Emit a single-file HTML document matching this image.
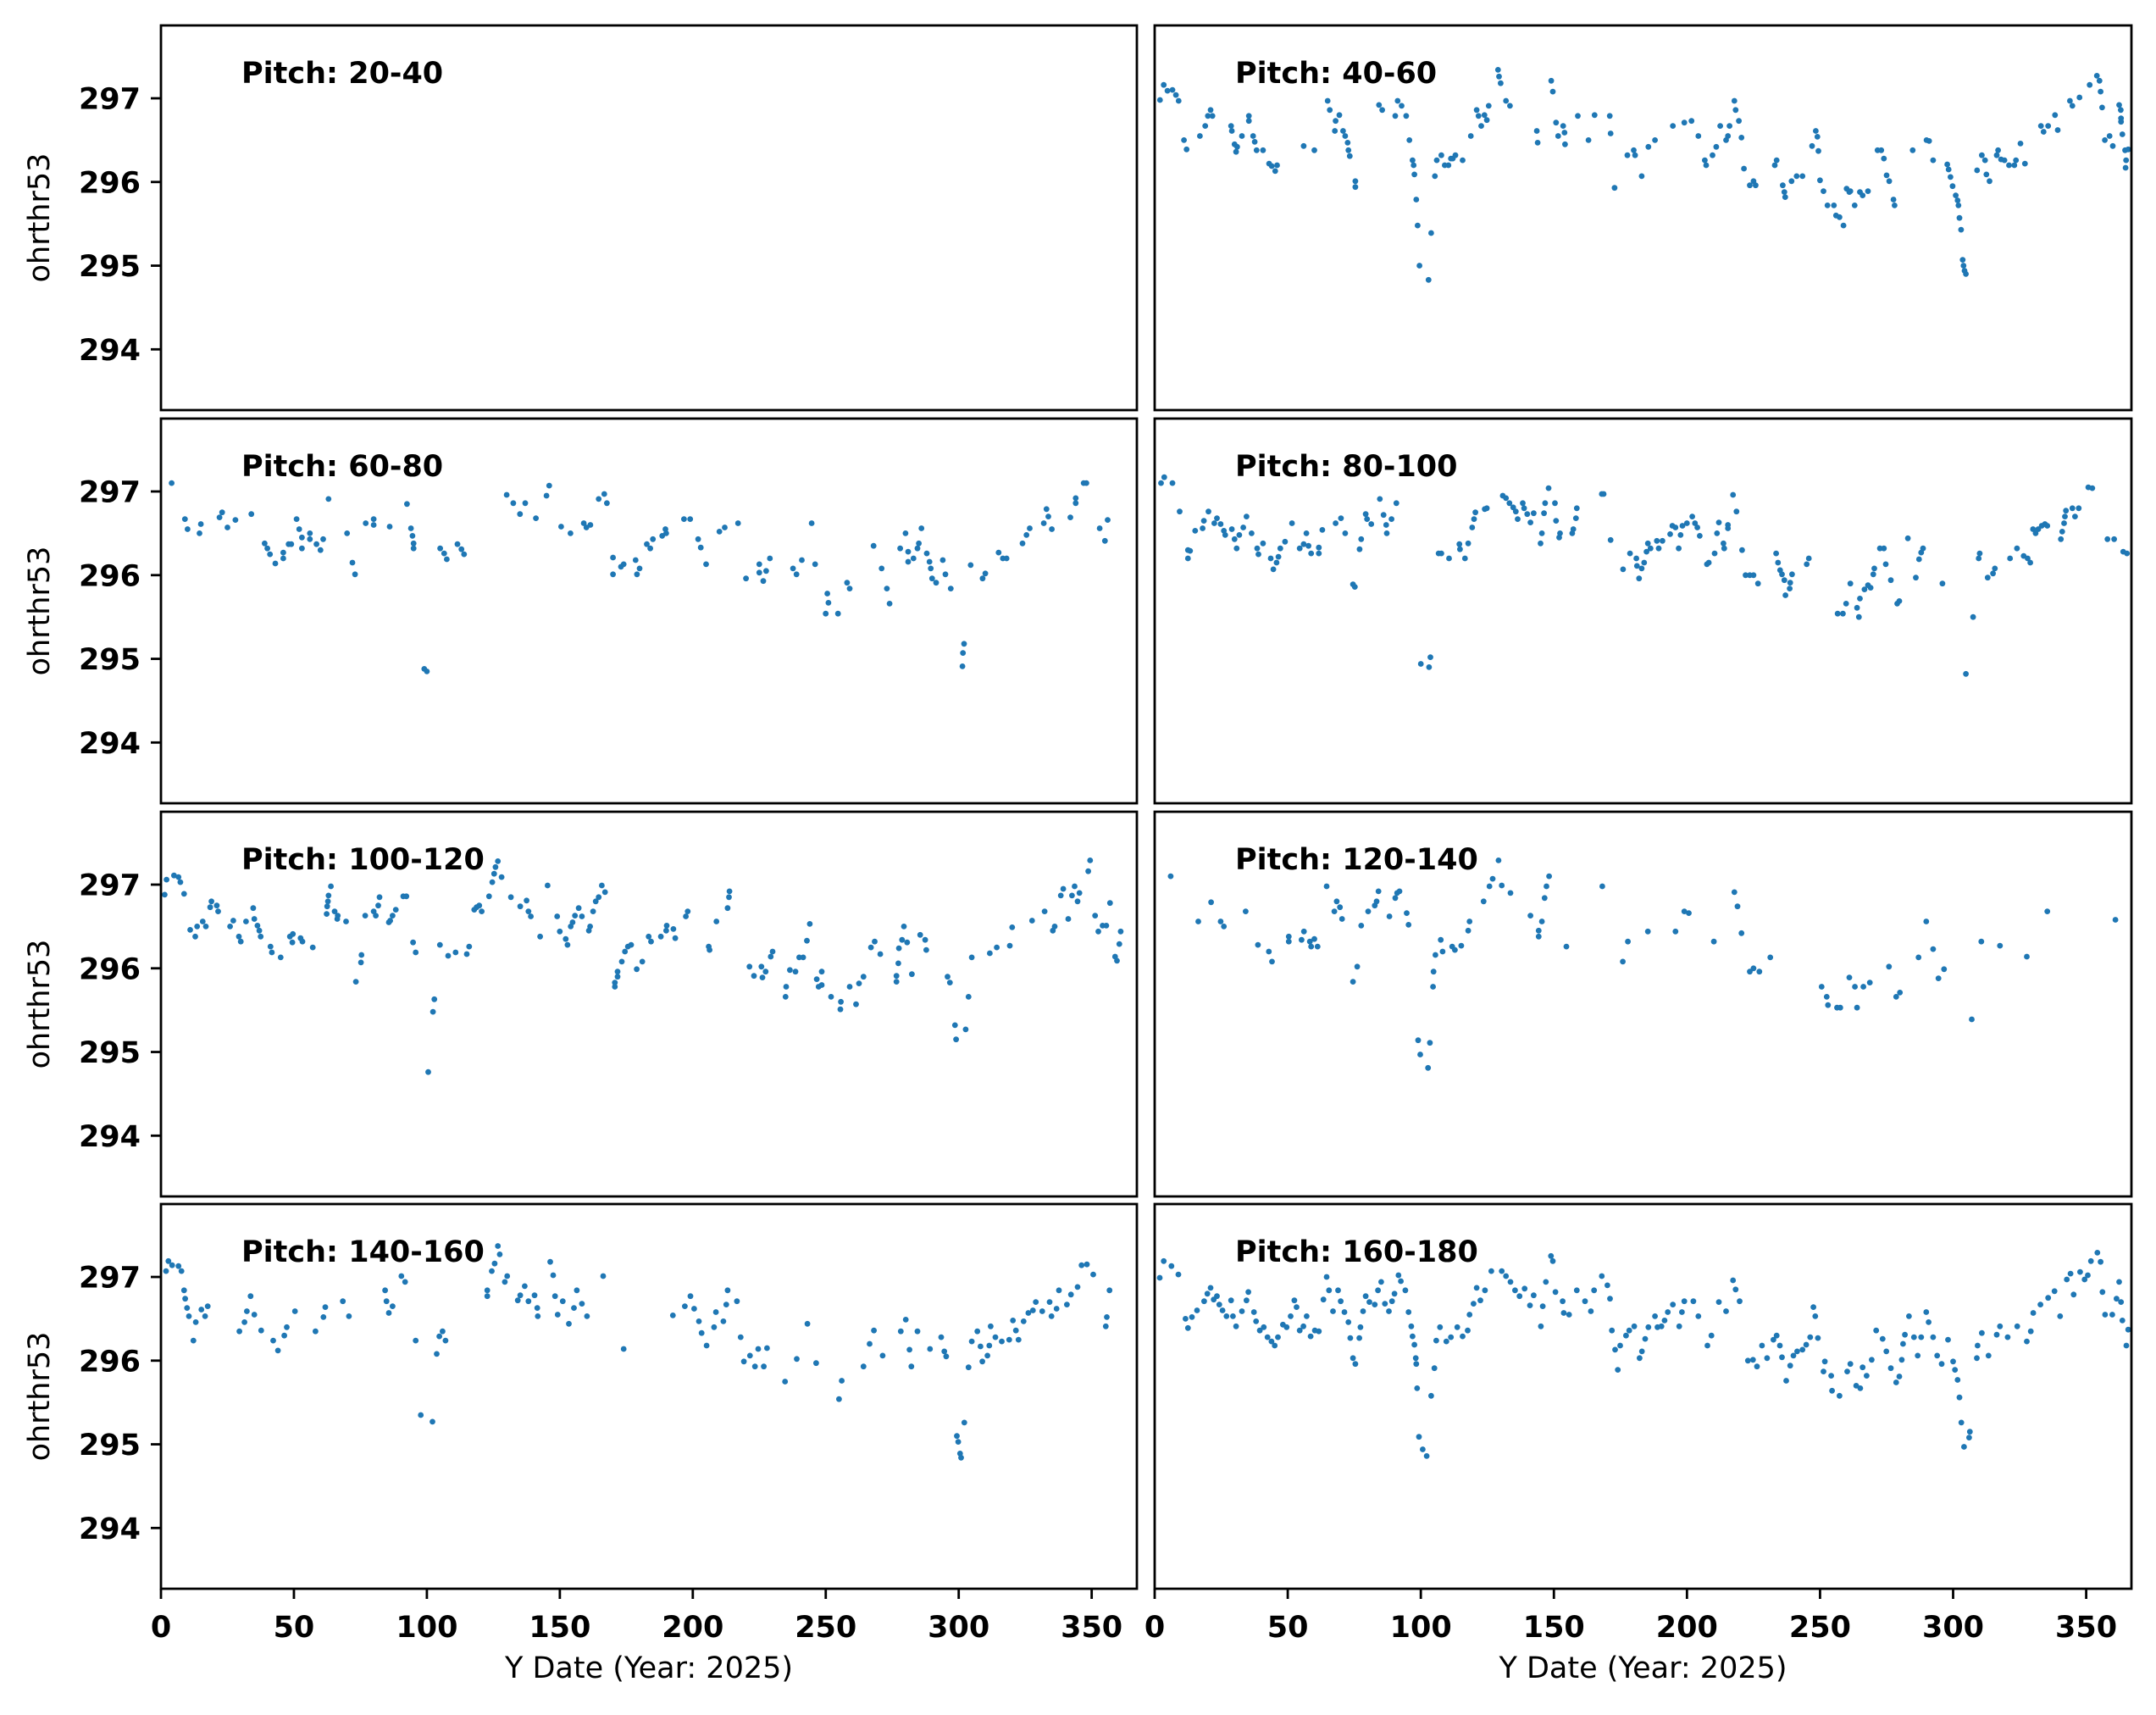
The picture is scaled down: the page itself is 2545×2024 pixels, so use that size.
<!DOCTYPE html>
<html><head><meta charset="utf-8"><title>ohrthr53 by pitch</title>
<style>
html,body{margin:0;padding:0;background:#fff;}
svg{display:block;}
text{font-family:"DejaVu Sans","Liberation Sans",sans-serif;fill:#000;}
</style></head>
<body>
<svg id="chart" width="2545" height="2024" viewBox="0 0 2545 2024" xmlns="http://www.w3.org/2000/svg">
<rect x="0" y="0" width="2545" height="2024" fill="#fff"/>
</svg>
<script>
const panelTitles = ["Pitch: 20-40","Pitch: 40-60","Pitch: 60-80","Pitch: 80-100","Pitch: 100-120","Pitch: 120-140","Pitch: 140-160","Pitch: 160-180"];
const yTicks = [294,295,296,297];
const xTicks = [0,50,100,150,200,250,300,350];
const xDomain = [0,367];
const yDomain = [293.274,297.871];

const p20_40 = [];
const p40_60 = [[2,296.98],[3.4,297.16],[4.8,297.09],[6.7,297.1],[8,297.04],[9,296.97],[11,296.5],[12,296.39],[17,296.55],[19,296.67],[20,296.79],[21,296.86],[21.7,296.79],[28.7,296.67],[29,296.61],[30,296.45],[30.6,296.36],[31,296.42],[32.8,296.55],[35.4,296.79],[35.4,296.73],[37,296.55],[37.6,296.48],[38.3,296.38],[40.7,296.38],[43,296.22],[44,296.19],[45.3,296.13],[46,296.2],[56,296.43],[60,296.38],[65,296.97],[65.8,296.86],[68,296.73],[69.4,296.8],[67.7,296.61],[70.8,296.61],[71.6,296.55],[72.5,296.47],[72.8,296.38],[73.3,296.31],[75.4,296.01],[75.4,295.94],[84.3,296.92],[85.5,296.86],[91.3,296.97],[92.8,296.91],[90.4,296.79],[94.5,296.79],[95.7,296.5],[96.9,296.26],[97.3,296.2],[97.6,296.09],[98.3,295.79],[98.8,295.48],[99.5,295],[102.9,294.83],[103.9,295.39],[105.3,296.07],[106,296.26],[107.7,296.32],[109,296.2],[110.4,296.2],[111.3,296.28],[112,296.28],[113,296.32],[115.7,296.26],[118.8,296.55],[121,296.86],[121.7,296.79],[122.7,296.67],[123.9,296.8],[124.8,296.74],[125.5,296.91],[129,297.34],[129.4,297.26],[130,297.18],[132,296.97],[133.5,296.91],[143.6,296.61],[143.9,296.47],[149,297.21],[149.6,297.08],[150.8,296.71],[151.6,296.55],[153.5,296.67],[154,296.59],[154.2,296.45],[159,296.79],[163,296.5],[165.3,296.8],[171,296.79],[171.3,296.58],[172.8,295.93],[177.6,296.32],[180,296.38],[180.5,296.32],[183,296.07],[185.5,296.42],[188,296.5],[194.7,296.67],[199,296.71],[201.7,296.73],[204.3,296.55],[206.7,296.26],[207.2,296.2],[209.6,296.32],[211,296.42],[212.5,296.67],[214.7,296.5],[215.4,296.55],[216,296.67],[217.8,296.97],[218.3,296.86],[219.5,296.73],[220.5,296.53],[221.4,296.16],[223.6,295.96],[225,296.01],[225.8,295.96],[233,296.2],[233.7,296.26],[236,295.96],[236.6,295.88],[236.9,295.82],[239.3,296.01],[241.2,296.07],[243.4,296.07],[247,296.43],[248.4,296.61],[249,296.54],[249.4,296.37],[250,296.02],[251.3,295.89],[252.8,295.72],[255.2,295.72],[256,295.6],[257.3,295.58],[258.8,295.48],[260,295.92],[261,295.88],[261.4,295.89],[263,295.72],[265,295.88],[266,295.84],[268,295.89],[271.6,296.38],[273,296.38],[274,296.28],[275,296.08],[276,296.01],[277.6,295.79],[278,295.72],[284.8,296.38],[290,296.5],[291,296.49],[292.5,296.26],[297.8,296.21],[298.3,296.15],[299,296.06],[299.8,295.95],[301,295.84],[301.7,295.78],[302,295.72],[302.4,295.57],[303,295.43],[303.6,295.07],[303.9,295],[304.3,294.94],[304.8,294.9],[309,296.14],[310.8,296.32],[312,296.26],[312.5,296.09],[313.7,296.01],[316.9,296.38],[316.4,296.32],[318,296.27],[319.3,296.26],[321,296.2],[323,296.2],[323.6,296.26],[325.3,296.46],[327,296.22],[333,296.67],[334,296.6],[335.7,296.67],[338.3,296.8],[339.3,296.62],[343.9,296.97],[344.8,296.91],[347.5,297.01],[351.3,297.16],[354,297.27],[355,297.21],[355.4,297.08],[356,296.89],[357,296.5],[358.8,296.55],[360,296.43],[362.4,296.92],[363,296.86],[363.1,296.76],[363.1,296.72],[363.6,296.57],[364.6,296.38],[365,296.26],[364.8,296.17],[365.8,296.39]];
const p60_80 = [[4,297.1],[9,296.67],[10,296.55],[15,296.61],[14.5,296.5],[22,296.69],[23,296.75],[25,296.57],[28,296.66],[34,296.73],[39,296.38],[40,296.32],[41,296.25],[43,296.14],[46,296.27],[46,296.2],[48,296.37],[49,296.37],[51,296.67],[52,296.55],[53,296.45],[53,296.32],[56,296.5],[56,296.43],[58.5,296.37],[60,296.3],[61,296.43],[63,296.91],[70,296.5],[72,296.15],[73,296.01],[77,296.62],[80,296.67],[80,296.6],[86,296.58],[92.5,296.85],[94,296.56],[94.6,296.47],[95,296.38],[95,296.32],[99,294.88],[100,294.85],[105,296.32],[106.5,296.26],[107.5,296.19],[111.5,296.37],[113,296.31],[114,296.25],[130,296.96],[132.5,296.86],[137,296.86],[135,296.73],[141,296.68],[145,296.95],[146,297.07],[150.5,296.58],[154,296.5],[159,296.62],[160,296.57],[161.5,296.6],[164.6,296.91],[166.7,296.97],[167.7,296.86],[170,296.21],[170,296.01],[173,296.1],[174,296.13],[178.5,296.18],[179,296.01],[180,296.08],[182.7,296.37],[184,296.32],[185,296.43],[188.5,296.47],[189.7,296.55],[190,296.5],[196.7,296.67],[199,296.67],[202,296.43],[203,296.33],[205,296.13],[210,296.52],[212,296.57],[217,296.62],[220,295.96],[225,296.03],[225,296.13],[226.5,295.93],[227.6,296.05],[229,296.2],[237.7,296.08],[239,296.01],[241,296.18],[244.7,296.62],[246,296.13],[250.6,295.78],[251,295.67],[250,295.54],[254.6,295.54],[258,295.91],[259,295.84],[268,296.35],[271,296.08],[273,295.84],[274,295.66],[278,296.32],[280,296.5],[281,296.28],[281,296.16],[283,296.2],[284.5,296.32],[285,296.38],[286,296.56],[288,296.26],[289,296.16],[289.5,296.08],[290,295.96],[291.5,295.91],[294,296.18],[295,296.01],[297,295.84],[302,295.18],[301.6,295.07],[301.4,294.91],[304.5,296.12],[309,295.96],[310,296.02],[315,296.27],[316.6,296.2],[318,296.2],[324,296.38],[325.5,296.48],[326.7,296.56],[332,296.62],[333,296.79],[333.7,296.7],[335,296.55],[342,296.69],[344,296.92],[344,296.86],[347,297.1],[348,297.1],[353,296.56],[355,296.41],[356,296.66]];
const p80_100 = [[2.4,297.1],[3.6,297.17],[6.7,297.1],[9.4,296.76],[12.5,296.3],[12.5,296.2],[13.3,296.29],[15.2,296.53],[18,296.56],[18.5,296.65],[20.2,296.76],[22.4,296.62],[23.4,296.68],[24.8,296.61],[26,296.53],[26.5,296.48],[29,296.55],[30,296.43],[30.8,296.32],[31.8,296.48],[33.3,296.57],[34.5,296.7],[36.4,296.5],[38.5,296.32],[39,296.25],[40.7,296.38],[43.6,296.2],[44.6,296.07],[45.8,296.15],[46.5,296.22],[47.2,296.32],[49,296.4],[51.6,296.62],[54.5,296.32],[56,296.37],[57,296.5],[57.8,296.35],[58.8,296.26],[61.7,296.33],[61.7,296.26],[63,296.54],[68,296.62],[70,296.68],[71.6,296.5],[74.5,295.89],[75.2,295.86],[77,296.31],[77.6,296.43],[79.3,296.73],[79.8,296.67],[81.4,296.61],[84.6,296.91],[86,296.72],[87,296.6],[87.2,296.5],[89,296.67],[90.8,296.86],[100,294.94],[103.1,294.9],[103.6,295.02],[106.7,296.26],[107.7,296.26],[110.6,296.2],[114.5,296.37],[114.7,296.31],[116.6,296.2],[117.8,296.38],[119.3,296.57],[120,296.67],[120.5,296.75],[124,296.79],[124.8,296.8],[130.8,296.95],[132,296.92],[133.3,296.86],[134.7,296.81],[135.7,296.76],[136.4,296.67],[138.3,296.86],[138.8,296.8],[140,296.73],[141.2,296.63],[142.4,296.74],[146.3,296.74],[146.7,296.86],[148,297.04],[150.4,296.86],[150.8,296.65],[145.5,296.5],[145,296.38],[152.3,296.5],[152,296.45],[156.9,296.5],[157.3,296.55],[158.3,296.68],[158.6,296.8],[168,296.97],[168.7,296.97],[171.3,296.42],[176,296.07],[178.6,296.26],[181,296.2],[181.2,296.11],[182,295.96],[183,296.08],[183.9,296.15],[184.8,296.28],[185.3,296.38],[186.3,296.32],[188.7,296.41],[189.4,296.32],[190.8,296.41],[193.7,296.49],[194.5,296.59],[195.7,296.57],[196.9,296.32],[197.6,296.48],[198.3,296.59],[200,296.62],[202,296.7],[203,296.62],[203.9,296.57],[204.8,296.47],[207.5,296.13],[208.2,296.15],[210.4,296.26],[211.3,296.5],[212,296.63],[213.7,296.38],[214,296.32],[215.4,296.6],[215.4,296.56],[217.3,296.96],[218.6,296.76],[220.7,296.3],[222,296],[223.6,296],[225,296],[226.7,295.9],[233.5,296.26],[234.2,296.15],[235,296.06],[235.7,296.01],[236.6,295.94],[237,295.76],[238.6,295.84],[238.8,295.91],[239.5,296.01],[245,296.13],[245.8,296.2],[256.6,295.54],[258.6,295.54],[259.8,295.66],[261.4,295.9],[263.9,295.61],[264.6,295.5],[265,295.72],[266.7,295.83],[268,295.88],[269,295.85],[270,296.01],[270.4,296.08],[272.5,296.32],[274,296.32],[274.7,296.13],[276.6,295.94],[279,295.66],[279.8,295.69],[283,296.44],[286,295.97],[287.2,296.19],[288,296.27],[288.7,296.32],[296,295.9],[304.8,294.82],[307.5,295.5],[309.6,296.2],[310,296.26],[313,295.97],[315,296.02],[315.7,296.08],[321.4,296.2],[324,296.32],[326.5,296.23],[328,296.2],[329,296.15],[330,296.55],[331,296.5],[332,296.55],[333.3,296.59],[334.5,296.61],[335.4,296.59],[340.5,296.43],[341,296.52],[341.7,296.62],[342,296.7],[342.4,296.77],[344.8,296.8],[345.8,296.7],[347.2,296.8],[350.8,297.05],[352.3,297.04],[358,296.43],[360.5,296.43],[363.9,296.28],[365.3,296.26]];
const p100_120 = [[1.4,296.88],[2.1,297.06],[4.9,297.11],[6.6,297.09],[7.3,297.03],[8.7,296.89],[11,296.46],[12.9,296.38],[13.6,296.5],[15.7,296.56],[16.9,296.5],[18.5,296.73],[19,296.8],[21,296.75],[21.5,296.68],[26,296.5],[27.2,296.57],[29.3,296.38],[30,296.32],[32,296.56],[34.7,296.72],[35.1,296.59],[36.3,296.51],[37,296.45],[37.5,296.38],[41.2,296.26],[41.7,296.19],[45,296.13],[48.5,296.38],[49.6,296.41],[49.4,296.31],[52.5,296.36],[53.2,296.32],[57.1,296.25],[62.3,296.65],[62.5,296.74],[62.8,296.8],[63,296.87],[63.9,296.98],[65.3,296.68],[66.3,296.59],[66.5,296.63],[69.6,296.56],[73.3,295.84],[75.2,296.07],[75.4,296.16],[76.8,296.63],[80,296.68],[80.8,296.63],[81.7,296.75],[82.2,296.85],[85.7,296.55],[86.2,296.57],[87.1,296.63],[88.3,296.7],[91.1,296.86],[92.3,296.86],[94.8,296.31],[95.8,296.19],[100.5,294.76],[102.3,295.48],[102.8,295.63],[104.9,296.28],[108,296.15],[110.8,296.19],[115,296.17],[115.9,296.26],[117.8,296.7],[118.7,296.73],[119.7,296.75],[120.6,296.68],[123.4,296.86],[124.6,297.03],[125.3,297.13],[125.8,297.21],[126.7,297.28],[128.1,297.09],[131.6,296.85],[135.1,296.74],[137.5,296.81],[138.2,296.68],[139.1,296.62],[142.6,296.38],[145.4,296.99],[149,296.62],[150,296.44],[152.2,296.35],[152.9,296.28],[154.1,296.5],[154.8,296.55],[155.7,296.63],[157.1,296.72],[158.3,296.62],[160.9,296.45],[161.4,296.5],[162.5,296.68],[163.5,296.8],[164.6,296.85],[165.8,296.99],[167,296.91],[170.7,295.78],[170.7,295.83],[171.7,295.9],[171.7,295.96],[173.3,296.08],[174.5,296.2],[175.6,296.26],[176.8,296.28],[178.9,295.99],[181,296.08],[183.4,296.38],[184.3,296.32],[188,296.38],[190,296.45],[190.2,296.51],[192.7,296.47],[193.4,296.36],[197.4,296.62],[198.1,296.68],[206,296.26],[206.3,296.22],[208.9,296.56],[213.1,296.72],[213.6,296.85],[213.8,296.92],[221.3,296.02],[223,295.91],[225.8,296.02],[226.2,295.89],[227.4,295.96],[229.3,296.14],[230,296.2],[234.9,295.66],[235.1,295.78],[236.5,295.98],[238.6,295.96],[240,296.13],[241.5,296.13],[242.9,296.33],[244,296.53],[246.6,295.87],[247.3,295.78],[248.5,295.8],[248.5,295.96],[252,295.66],[255.5,295.51],[255.7,295.6],[259,295.78],[261.4,295.57],[262.5,295.82],[264.2,295.9],[267,296.25],[268.4,296.32],[270.5,296.17],[276.6,295.91],[276.6,295.84],[277.3,296.06],[277.5,296.24],[278.7,296.34],[279.4,296.5],[280.6,296.31],[282.4,295.93],[285.5,296.4],[287.4,296.34],[287.8,296.22],[295.8,295.9],[296.7,295.83],[298.6,295.32],[299,295.15],[302.6,295.27],[303.7,295.66],[304.9,296.13],[311.7,296.18],[314.3,296.25],[319.2,296.27],[320.1,296.49],[327.6,296.57],[332.3,296.68],[335.4,296.45],[336.1,296.5],[338.4,296.87],[339.3,296.95],[341.2,296.59],[342.6,296.87],[343.6,296.98],[344.7,296.8],[345.4,296.9],[348.7,297.16],[349.4,297.29],[351.3,296.63],[352.5,296.44],[354.1,296.51],[355.5,296.51],[356.9,296.78],[358.8,296.14],[359.5,296.09],[360.4,296.29],[360.9,296.44]];
const p120_140 = [[6,297.1],[16.4,296.56],[21.2,296.79],[24.8,296.56],[26,296.5],[34.2,296.68],[38.8,296.28],[42.9,296.2],[44.1,296.08],[50.4,296.38],[50.4,296.32],[55.2,296.34],[56.1,296.44],[58.3,296.32],[58.8,296.26],[60,296.35],[61.2,296.26],[64.6,296.98],[67.5,296.68],[68.4,296.8],[69.6,296.73],[70.4,296.59],[74.5,295.84],[76.1,296.02],[77.6,296.51],[80.2,296.68],[82.7,296.75],[83.4,296.8],[84.1,296.92],[88.2,296.62],[90.4,296.84],[91.1,296.9],[92,296.92],[94.7,296.66],[95.4,296.52],[99,295.14],[99.8,294.97],[102.7,294.81],[103.4,295.11],[104.6,295.78],[104.8,295.96],[105.5,296.16],[107.5,296.34],[108.2,296.2],[111.8,296.26],[112.8,296.22],[115.2,296.27],[117.8,296.45],[118.3,296.56],[123.6,296.8],[125.8,296.98],[127,297.07],[129.2,297.29],[130.4,296.99],[133.7,296.9],[141.2,296.63],[144.3,296.45],[144.3,296.38],[145.5,296.56],[146.5,296.84],[147.2,296.98],[148.2,297.1],[154.7,296.26],[168.2,296.98],[175.9,296.08],[177.8,296.32],[185.3,296.44],[195.7,296.44],[199,296.68],[200.7,296.66],[210.1,296.32],[217.8,296.91],[219,296.74],[220.5,296.42],[223.6,295.96],[225,296.0],[227.2,295.96],[231.3,296.13],[250.6,295.78],[252.5,295.66],[253,295.56],[256.4,295.53],[257.6,295.53],[261,295.89],[263.1,295.78],[266.3,295.78],[263.9,295.53],[268.7,295.83],[275.9,296.02],[278.6,295.66],[280,295.71],[287,296.13],[289.9,296.56],[292.5,296.23],[294.5,295.88],[296.6,295.99],[307,295.39],[310.6,296.32],[317.6,296.27],[327.7,296.14],[335.4,296.68],[361,296.58]];
const p140_160 = [[1.9,297.07],[2.8,297.19],[4.2,297.14],[6.6,297.13],[7.7,297.07],[8.7,296.84],[9.1,296.74],[9.8,296.63],[10.5,296.53],[12.2,296.24],[13.1,296.46],[15.2,296.61],[16.6,296.53],[17.6,296.65],[29.5,296.35],[31.4,296.46],[32.3,296.59],[33.7,296.77],[35.1,296.55],[37.7,296.36],[42.2,296.24],[44,296.12],[46.4,296.3],[47.3,296.4],[50.4,296.59],[58.1,296.35],[61.1,296.52],[61.8,296.64],[68.4,296.71],[70.7,296.53],[84.3,296.84],[84.8,296.71],[85.7,296.57],[87.1,296.65],[90.4,297.01],[91.8,296.94],[95.8,296.24],[97.7,295.35],[102.1,295.27],[103.7,296.08],[104.7,296.29],[105.9,296.35],[107,296.24],[122.7,296.84],[122.7,296.77],[124.4,297.07],[125.5,297.16],[126.7,297.37],[127.4,297.27],[129.3,296.94],[130.2,297.01],[134.2,296.72],[135.1,296.78],[136.8,296.89],[138.2,296.71],[140.5,296.78],[141.5,296.63],[141.7,296.53],[146.4,297.18],[147.5,297.02],[148.2,296.77],[149.2,296.55],[151.1,296.71],[153.4,296.44],[155.3,296.63],[156.4,296.84],[158.3,296.68],[160.2,296.53],[166.3,297.01],[174,296.14],[192.5,296.54],[197,296.65],[199.1,296.77],[200.5,296.62],[202.3,296.47],[203.3,296.33],[205.2,296.18],[208,296.4],[208.7,296.58],[211.5,296.47],[212.6,296.67],[213.1,296.84],[216.6,296.71],[218,296.28],[219.2,295.99],[221.5,296.06],[223.4,295.93],[224.6,296.14],[226.7,295.93],[227.9,296.15],[234.7,295.75],[239.1,296.02],[243.1,296.44],[246.4,295.97],[255,295.54],[256,295.76],[264.2,295.93],[266.5,296.2],[268.1,296.36],[271.4,296.06],[278.2,296.35],[280.1,296.49],[281.5,296.13],[282.2,295.93],[284.5,296.35],[289.2,296.14],[293.4,296.28],[294.6,296.11],[295.3,296.05],[299.3,295.1],[299.8,295.03],[300.5,294.89],[300.9,294.84],[302.1,295.26],[303.7,295.92],[304.9,296.23],[307,296.35],[308.2,296.17],[308.9,295.99],[310.8,296.06],[311.5,296.18],[312,296.41],[313.8,296.28],[316.2,296.23],[319,296.25],[320.4,296.48],[321.5,296.36],[322.5,296.25],[324.4,296.47],[326.2,296.57],[327.9,296.6],[329,296.7],[331.4,296.59],[334.2,296.7],[334.9,296.53],[336.8,296.62],[337.7,296.84],[340.7,296.67],[342.2,296.79],[344.7,296.88],[346.2,297.14],[348.2,297.15],[350.6,297.03],[355.3,296.41],[355.7,296.52],[356.7,296.84]];
const p160_180 = [[1.9,296.99],[3.4,297.19],[6.3,297.13],[8.9,297.03],[11.6,296.5],[12.5,296.39],[14,296.52],[15.9,296.6],[18.6,296.71],[19.8,296.8],[21,296.87],[22.2,296.73],[23.4,296.77],[24.3,296.67],[25.5,296.6],[27,296.53],[28.7,296.72],[29.4,296.53],[30.6,296.41],[32.8,296.59],[34.5,296.72],[35.2,296.82],[37.3,296.58],[38.1,296.47],[39.5,296.36],[41,296.4],[42.4,296.28],[43.9,296.23],[45.1,296.18],[46.3,296.28],[48.2,296.43],[49.6,296.4],[51.1,296.53],[52.5,296.72],[53.3,296.64],[54.5,296.36],[55.9,296.41],[57.1,296.53],[58.6,296.29],[60.2,296.36],[61.7,296.35],[63.4,296.73],[64.6,297],[65.5,296.84],[67,296.59],[68.9,296.84],[69.9,296.71],[71.3,296.58],[72.8,296.46],[73.5,296.27],[74.5,296.03],[75.4,295.96],[76.9,296.27],[77.3,296.4],[78.3,296.59],[79.3,296.77],[80.7,296.7],[82.7,296.67],[83.9,296.84],[85.1,296.94],[86.5,296.68],[88,296.59],[89.2,296.71],[90.1,296.8],[91.6,297.02],[92.5,296.95],[94.2,296.84],[95.4,296.58],[96.4,296.41],[96.9,296.29],[97.6,296.19],[98.1,296.03],[98.3,295.96],[98.6,295.67],[99.3,295.09],[100.7,294.94],[102.2,294.86],[103.9,295.58],[105.1,295.91],[105.8,296.24],[107.2,296.4],[109.6,296.23],[111.3,296.28],[113.7,296.4],[115.7,296.29],[117.6,296.36],[118.3,296.55],[119.8,296.68],[121,296.87],[122.4,296.72],[124.1,296.84],[126.5,297.07],[130.4,297.07],[132,297.01],[133.7,296.94],[135.4,296.84],[137.1,296.77],[139,296.86],[141,296.66],[142.4,296.78],[145.1,296.41],[145.8,296.65],[147,296.94],[148.9,297.25],[149.6,297.19],[150.6,296.82],[153.3,296.71],[153.7,296.57],[155.7,296.55],[158.6,296.84],[161.7,296.71],[163.9,296.59],[165.1,296.84],[168,297.01],[170.1,296.9],[171.1,296.74],[171.8,296.36],[173,296.13],[174,295.89],[174.9,296.18],[177.1,296.3],[178.3,296.36],[180.2,296.41],[182.2,296.03],[183.1,296.11],[184.3,296.26],[185.5,296.4],[188,296.53],[188.9,296.4],[190.4,296.41],[191.6,296.48],[192.8,296.58],[194.7,296.67],[197.1,296.41],[198.1,296.58],[199,296.71],[202.4,296.71],[204.3,296.53],[207.7,296.18],[209.2,296.3],[212,296.7],[214.7,296.59],[217.3,296.96],[218.3,296.85],[219.8,296.71],[222.9,296],[224.8,296.01],[226.3,295.93],[228.2,296.18],[230.1,296.03],[232.5,296.25],[233.7,296.3],[234.9,296.18],[235.7,296.04],[237.3,295.76],[238.8,295.94],[240,296.06],[241.4,296.11],[243.4,296.13],[244.8,296.19],[246.3,296.28],[247.5,296.64],[248.2,296.53],[249.2,296.27],[251.8,295.99],[251.3,295.87],[254.2,295.82],[254.5,295.64],[257.3,295.58],[260.2,295.87],[261.4,295.96],[263.6,295.7],[265.1,295.67],[266,295.92],[267.5,295.82],[269.4,296.01],[271.1,296.36],[273.5,296.26],[274.9,296.11],[276.6,295.91],[278.6,295.74],[279.8,295.81],[280.7,296.01],[281.2,296.2],[281.9,296.31],[283.4,296.53],[285.3,296.28],[286.7,296.06],[288,296.28],[289.9,296.58],[290.8,296.46],[292.5,296.28],[294,296.06],[295.7,295.96],[298.1,296.25],[300,295.99],[300.7,295.89],[301.7,295.77],[302.4,295.56],[303.1,295.26],[304.1,294.97],[306,295.08],[306.3,295.15],[308.9,296.03],[309.2,296.18],[310.8,296.33],[313.3,296.06],[316.4,296.31],[317.6,296.41],[320.5,296.28],[324.1,296.41],[327.7,296.23],[329.2,296.35],[330.1,296.57],[332.8,296.67],[335.7,296.75],[338.1,296.83],[340.2,296.53],[342.7,296.97],[344.1,297.04],[345.3,296.79],[347.7,297.06],[349.4,296.97],[350.6,297.02],[351.8,297.19],[354.2,297.29],[355.4,297.18],[356.1,296.82],[357.1,296.55],[359.8,296.55],[361.4,296.74],[362.4,296.94],[363.1,296.7],[363.6,296.48],[365.1,296.18],[365.8,296.37]];
const seriesList = [p20_40,p40_60,p60_80,p80_100,p100_120,p120_140,p140_160,p160_180];

const NS = "http://www.w3.org/2000/svg";
const svg = document.getElementById("chart");
const colX = [[190,1342],[1363,2516]];
const rowY = [[30,484],[494,948],[958,1412],[1421,1875]];
function mk(tag, attrs, parent){
  const e = document.createElementNS(NS, tag);
  for (const k in attrs) e.setAttribute(k, attrs[k]);
  (parent||svg).appendChild(e);
  return e;
}
function slug(t){return t.toLowerCase().replace(/[^a-z0-9]+/g,'-').replace(/^-|-$/g,'');}

seriesList.forEach(function(data, i){
  const col = i % 2, row = Math.floor(i / 2);
  const x0 = colX[col][0], x1 = colX[col][1], y0 = rowY[row][0], y1 = rowY[row][1];
  const xs = function(v){ return x0 + (v - xDomain[0]) / (xDomain[1] - xDomain[0]) * (x1 - x0); };
  const ys = function(v){ return y1 - (v - yDomain[0]) / (yDomain[1] - yDomain[0]) * (y1 - y0); };
  const g = mk("g", {});
  
  
  const pts = mk("g", {fill: "#1f77b4"}, g);
  
  
  data.forEach(function(d){
    const c = mk("circle", {cx: xs(d[0]).toFixed(1), cy: ys(d[1]).toFixed(1), r: 3.4}, pts);
    
    
  });
  const frame = mk("rect", {x: x0, y: y0, width: x1 - x0, height: y1 - y0, fill: "none", stroke: "#000", "stroke-width": 2.8}, g);
  
  
  const title = mk("text", {x: x0 + 95, y: y0 + 68, "font-size": 35, "font-weight": "bold"}, g);
  title.textContent = panelTitles[i];
  
  
  if (col === 0) {
    yTicks.forEach(function(t){
      const y = ys(t);
      const tk = mk("line", {x1: x0 - 12, x2: x0, y1: y, y2: y, stroke: "#000", "stroke-width": 2.8}, g);
      
      
      const lb = mk("text", {x: x0 - 24, y: y + 12.5, "font-size": 35, "font-weight": "bold", "text-anchor": "end"}, g);
      lb.textContent = String(t);
      
      
    });
    const cy = (y0 + y1) / 2;
    const yl = mk("text", {x: 0, y: 0, "font-size": 35, "text-anchor": "middle", transform: "translate(58," + cy + ") rotate(-90)"}, g);
    yl.textContent = "ohrthr53";
    
    
  }
  if (row === 3) {
    xTicks.forEach(function(t){
      const x = xs(t);
      const tk = mk("line", {x1: x, x2: x, y1: y1, y2: y1 + 12, stroke: "#000", "stroke-width": 2.8}, g);
      
      
      const lb = mk("text", {x: x, y: y1 + 57, "font-size": 35, "font-weight": "bold", "text-anchor": "middle"}, g);
      lb.textContent = String(t);
      
      
    });
    const xl = mk("text", {x: (x0 + x1) / 2, y: y1 + 105, "font-size": 35, "text-anchor": "middle"}, g);
    xl.textContent = "Y Date (Year: 2025)";
    
    
  }
});
</script>
</body></html>
